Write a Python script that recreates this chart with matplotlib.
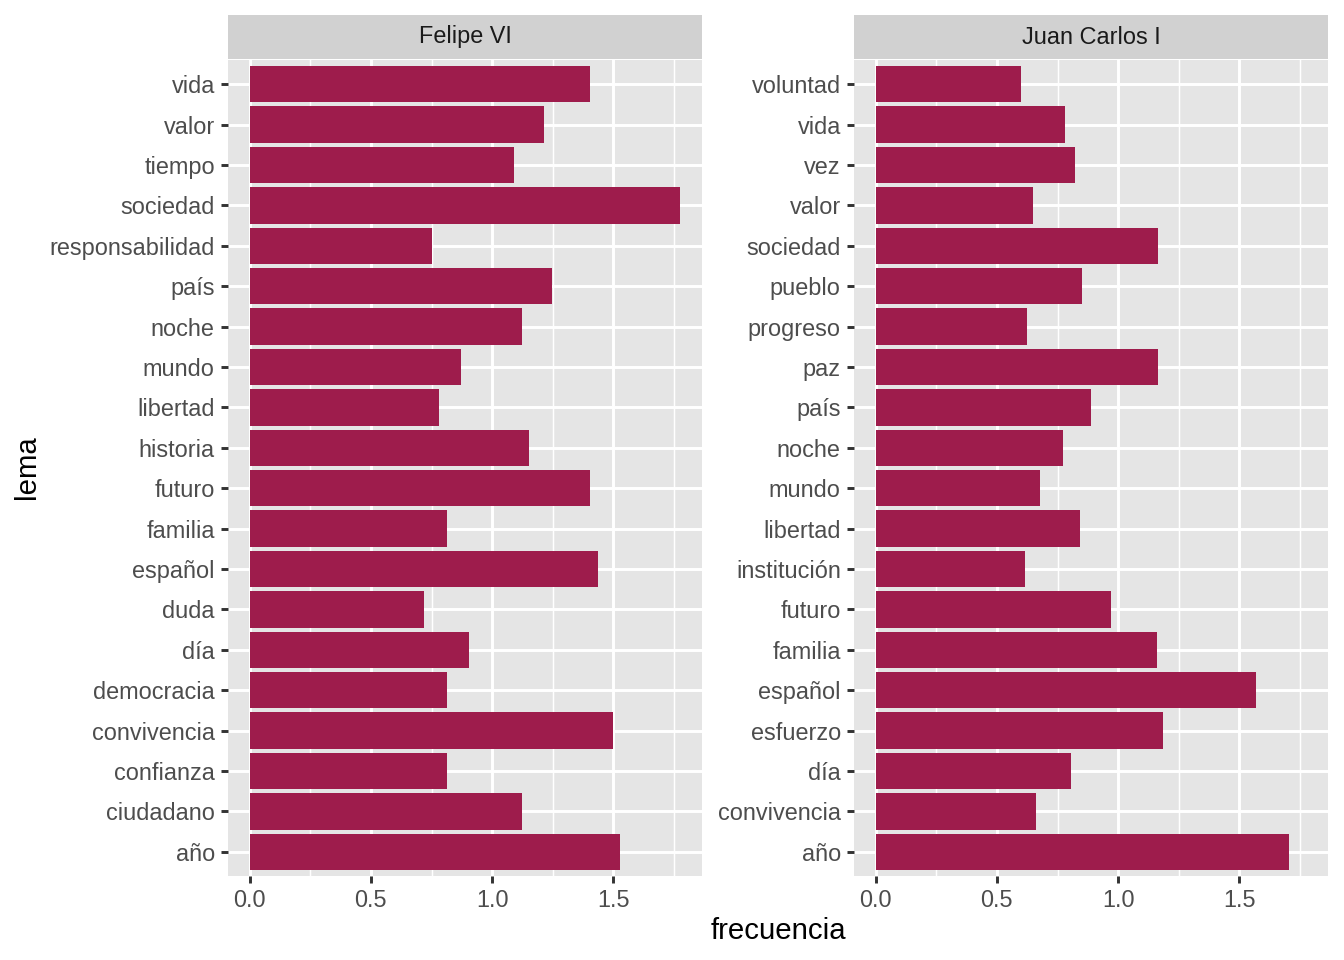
import numpy as np
import matplotlib.pyplot as plt

plt.rcParams['font.family'] = ['Liberation Sans', 'DejaVu Sans']

# Datos (de abajo hacia arriba)
lemas_felipe = ['año', 'ciudadano', 'confianza', 'convivencia', 'democracia', 'día',
                'duda', 'español', 'familia', 'futuro', 'historia', 'libertad', 'mundo',
                'noche', 'país', 'responsabilidad', 'sociedad', 'tiempo', 'valor', 'vida']
frec_felipe = [1.526, 1.124, 0.812, 1.497, 0.812, 0.906,
               0.717, 1.436, 0.812, 1.403, 1.152, 0.779, 0.873,
               1.124, 1.247, 0.750, 1.776, 1.091, 1.214, 1.403]

lemas_juan = ['año', 'convivencia', 'día', 'esfuerzo', 'español', 'familia', 'futuro',
              'institución', 'libertad', 'mundo', 'noche', 'país', 'paz', 'progreso',
              'pueblo', 'sociedad', 'valor', 'vez', 'vida', 'voluntad']
frec_juan = [1.702, 0.663, 0.806, 1.183, 1.570, 1.159, 0.970,
             0.618, 0.841, 0.679, 0.771, 0.888, 1.163, 0.626,
             0.852, 1.163, 0.650, 0.822, 0.780, 0.600]

paneles = [('Felipe VI', lemas_felipe, frec_felipe),
           ('Juan Carlos I', lemas_juan, frec_juan)]

color_barra = '#9E1C4C'
fondo = '#E5E5E5'
fondo_strip = '#D1D1D1'
texto = '#4D4D4D'

W, H = 1344, 960
fig = plt.figure(figsize=(7, 5), dpi=192)

xmax = max(max(frec_felipe), max(frec_juan))
xlim = (-0.05 * xmax, 1.05 * xmax)

lefts = [228, 854]
pw = 474
top_strip, bottom_strip, top_panel, bottom_panel = 15, 59, 60, 876

for (nombre, lemas, frec), l in zip(paneles, lefts):
    ax = fig.add_axes([l / W, 1 - bottom_panel / H, pw / W, (bottom_panel - top_panel) / H])
    ax.set_facecolor(fondo)
    y = np.arange(1, len(lemas) + 1)
    ax.barh(y, frec, height=0.9, color=color_barra, zorder=3)
    ax.set_xlim(*xlim)
    ax.set_ylim(0.4, len(lemas) + 0.6)
    ax.set_yticks(y)
    ax.set_yticklabels(lemas)
    ax.set_xticks([0, 0.5, 1.0, 1.5])
    ax.set_xticklabels(['0.0', '0.5', '1.0', '1.5'])
    ax.set_xticks([0.25, 0.75, 1.25, 1.75], minor=True)
    ax.grid(True, which='major', color='white', linewidth=1.1, zorder=0)
    ax.grid(True, which='minor', axis='x', color='white', linewidth=0.55, zorder=0)
    ax.set_axisbelow(True)
    for s in ax.spines.values():
        s.set_visible(False)
    ax.tick_params(axis='both', which='major', labelsize=8.8, labelcolor=texto,
                   color='#333333', length=2.75, width=1.1, pad=2.2)
    ax.tick_params(axis='both', which='minor', length=0)

    # tira del facet
    sax = fig.add_axes([l / W, 1 - bottom_strip / H, pw / W, (bottom_strip - top_strip) / H])
    sax.set_facecolor(fondo_strip)
    sax.set_xticks([])
    sax.set_yticks([])
    for s in sax.spines.values():
        s.set_visible(False)
    sax.text(0.5, 0.5, nombre, ha='center', va='center', fontsize=8.8,
             color='#1A1A1A', transform=sax.transAxes)

fig.text((228 + 1328) / 2 / W, 1 - 931 / H, 'frecuencia', ha='center', va='center',
         fontsize=11, color='black')
fig.text(27 / W, 1 - 467 / H, 'lema', ha='center', va='center', rotation=90,
         fontsize=11, color='black')

fig.savefig('out.png', dpi=192)
